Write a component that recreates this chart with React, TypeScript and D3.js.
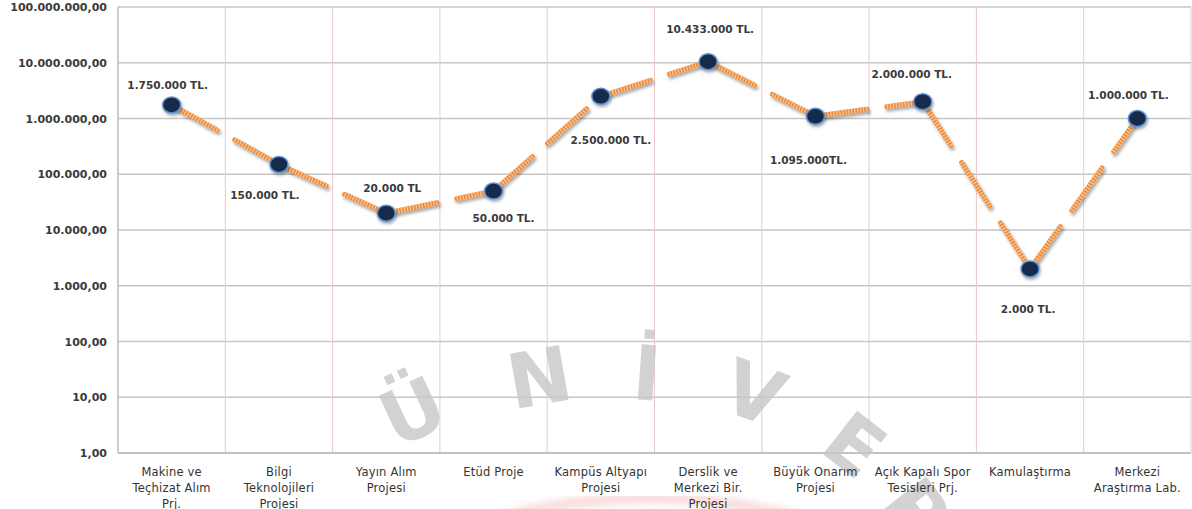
import * as d3 from "d3";

const categories = [
  ["Makine ve", "Teçhizat Alım", "Prj."],
  ["Bilgi", "Teknolojileri", "Projesi"],
  ["Yayın Alım", "Projesi"],
  ["Etüd Proje"],
  ["Kampüs Altyapı", "Projesi"],
  ["Derslik ve", "Merkezi Bir.", "Projesi"],
  ["Büyük Onarım", "Projesi"],
  ["Açık Kapalı Spor", "Tesisleri Prj."],
  ["Kamulaştırma"],
  ["Merkezi", "Araştırma Lab."],
];
const values = [1750000, 150000, 20000, 50000, 2500000, 10433000, 1095000, 2000000, 2000, 1000000];
const valueLabels = [
  "1.750.000 TL.", "150.000 TL.", "20.000 TL", "50.000 TL.", "2.500.000 TL.",
  "10.433.000 TL.", "1.095.000TL.", "2.000.000 TL.", "2.000 TL.", "1.000.000 TL.",
];
const yTicks = [1, 10, 100, 1000, 10000, 100000, 1000000, 10000000, 100000000];
const watermark = ["Ü", "N", "İ", "V", "E", "R"];

const W = 1192, H = 509;
const M = { left: 118, right: 1, top: 7, bottom: 56 };

// label offsets from the marker (text middle)
const LBL: [number, number][] = [
  [-4, -19], [-14, 31], [6, -25], [10, 27], [10, 44],
  [2, -32], [-7, 44], [-11, -27], [-2, 41], [-9, -23],
];
// watermark letter placement
const WM: [number, number, number][] = [
  [424, 436, -25], [544, 404, -10], [645, 400, 4], [745, 418, 20], [838, 466, 38], [896, 528, 52],
];

const tr = d3.formatLocale({ decimal: ",", thousands: ".", grouping: [3], currency: ["", ""] });
const fmt = tr.format(",.2f");

export default function App() {
  const keys = categories.map((_, i) => String(i));
  const x = d3.scaleBand().domain(keys).range([M.left, W - M.right]);
  const y = d3.scaleLog().domain([1, 1e8]).range([H - M.bottom, M.top]);
  const cx = (i: number) => x(String(i))! + x.bandwidth() / 2;
  const cy = (i: number) => y(values[i]);
  const line = d3.line<number>().x(cx).y(cy);
  const segs = values.slice(1).map((_, i) => [i, i + 1]);
  const bottom = H - M.bottom;
  const font = "DejaVu Sans, Verdana, sans-serif";

  return (
    <svg width={W} height={H} style={{ position: "absolute", left: 0, top: 0, background: "#fff" }}>
      <defs>
        <filter id="sh" x="-20%" y="-20%" width="140%" height="140%">
          <feDropShadow dx="1.5" dy="2.5" stdDeviation="1.6" floodColor="#000" floodOpacity="0.35" />
        </filter>
        <filter id="glow" x="-50%" y="-50%" width="200%" height="200%">
          <feDropShadow dx="1" dy="2" stdDeviation="1.5" floodColor="#000" floodOpacity="0.35" />
        </filter>
        <filter id="blur"><feGaussianBlur stdDeviation="3" /></filter>
        <mask id="dashMask">
          {segs.map((s) => (
            <path key={s[0]} d={line(s)!} stroke="#fff" strokeWidth={5} fill="none" strokeDasharray="52 20" strokeLinecap="round" />
          ))}
        </mask>
      </defs>

      {/* decorative logo arc at the bottom */}
      <path d="M 500 518 Q 650 478 800 518" fill="none" stroke="#f4b8b8" strokeWidth={12} opacity={0.45} filter="url(#blur)" />

      {/* horizontal grid */}
      {yTicks.map((t) => (
        <line key={t} x1={M.left} x2={W - M.right} y1={y(t)} y2={y(t)} stroke="#c6c6c6" strokeWidth={1.3} />
      ))}
      {/* vertical grid */}
      {keys.slice(1).map((k) => (
        <line key={k} x1={x(k)} x2={x(k)} y1={M.top} y2={bottom} stroke="#ecc8c8" strokeWidth={1} />
      ))}
      <line x1={W - M.right} x2={W - M.right} y1={M.top} y2={bottom} stroke="#ecc8c8" />
      <line x1={M.left} x2={M.left} y1={M.top} y2={bottom} stroke="#bdbdbd" strokeWidth={1.5} />
      <line x1={M.left} x2={W - M.right} y1={bottom} y2={bottom} stroke="#bdbdbd" strokeWidth={1.5} />

      {/* watermark */}
      {watermark.map((c, i) => (
        <text key={i} transform={`translate(${WM[i][0]},${WM[i][1]}) rotate(${WM[i][2]})`} textAnchor="middle"
          fontFamily={font} fontWeight="bold" fontSize={76} fill="#c8c8c8" opacity={0.8}>{c}</text>
      ))}

      {/* y tick labels */}
      {yTicks.map((t) => (
        <text key={t} x={107} y={y(t) + 4} textAnchor="end" fontFamily={font} fontWeight="bold" fontSize={11} fill="#3a3a3a">{fmt(t)}</text>
      ))}

      {/* category labels */}
      {categories.map((lines, i) => (
        <text key={i} x={cx(i)} y={bottom + 23} textAnchor="middle" fontFamily={font} fontSize={11.5} fill="#333" letterSpacing={0.2}>
          {lines.map((l, j) => (
            <tspan key={j} x={cx(i)} dy={j === 0 ? 0 : 16}>{l}</tspan>
          ))}
        </text>
      ))}

      {/* series line */}
      <g filter="url(#sh)">
        {segs.map((s) => (
          <path key={s[0]} d={line(s)!} stroke="#ec8a3c" strokeWidth={5} fill="none" strokeDasharray="52 20" strokeLinecap="round" />
        ))}
      </g>
      <g mask="url(#dashMask)">
        {segs.map((s) => (
          <path key={s[0]} d={line(s)!} stroke="#fbc795" strokeWidth={5} fill="none" strokeDasharray="1.3 1.7" />
        ))}
      </g>

      {/* markers */}
      {values.map((_, i) => (
        <ellipse key={i} cx={cx(i)} cy={cy(i)} rx={9} ry={8} fill="#142a4c" stroke="#5d8fcc" strokeWidth={1.5} filter="url(#glow)" />
      ))}

      {/* data labels */}
      {valueLabels.map((l, i) => (
        <text key={i} x={cx(i) + LBL[i][0]} y={cy(i) + LBL[i][1] + 3.5} textAnchor="middle" fontFamily={font} fontWeight="bold"
          fontSize={10.5} fill="#3a3a3a">{l}</text>
      ))}
    </svg>
  );
}
